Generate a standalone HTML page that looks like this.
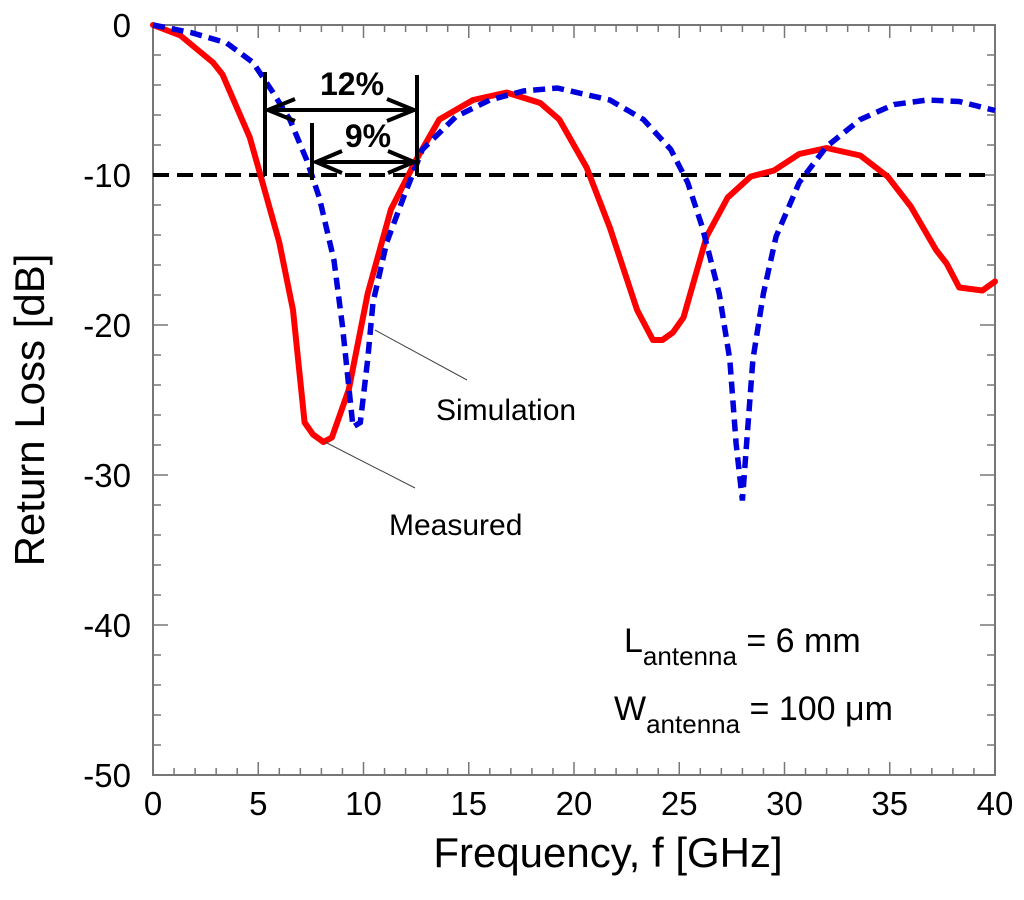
<!DOCTYPE html>
<html><head><meta charset="utf-8"><style>
html,body{margin:0;padding:0;background:#fff;}
svg{display:block;font-family:"Liberation Sans",Arial,sans-serif;}
</style></head><body>
<svg id="chart" width="1024" height="900" viewBox="0 0 1024 900" xmlns="http://www.w3.org/2000/svg">
<g id="axes"></g>
<g id="series"></g>
<g stroke="#000" stroke-width="4" fill="none">
<line x1="265" y1="72" x2="265" y2="176"/>
<line x1="417" y1="75" x2="417" y2="176"/>
<line x1="312" y1="123" x2="312" y2="180"/>
<line x1="270" y1="110" x2="412" y2="110"/>
<path d="M295,99 L268,110 L295,121 M387,99 L414,110 L387,121"/>
<line x1="316" y1="162" x2="413" y2="162"/>
<path d="M342,151 L316,162 L342,173 M388,151 L414,162 L388,173"/>
</g>
<text x="352" y="95" font-size="32" font-weight="bold" text-anchor="middle">12%</text>
<text x="368" y="147" font-size="32" font-weight="bold" text-anchor="middle">9%</text>
<line x1="375" y1="330" x2="467" y2="380" stroke="#444" stroke-width="1"/>
<text x="436" y="420" font-size="30">Simulation</text>
<line x1="325" y1="442" x2="415" y2="488" stroke="#444" stroke-width="1"/>
<text x="389" y="535" font-size="30">Measured</text>
<text x="624" y="652" font-size="34">L<tspan font-size="26" dy="13">antenna</tspan><tspan dy="-13"> =  6 mm</tspan></text>
<text x="614" y="720" font-size="34">W<tspan font-size="26" dy="13">antenna</tspan><tspan dy="-13"> = 100 μm</tspan></text>
<text x="608" y="867" font-size="42" text-anchor="middle">Frequency, f [GHz]</text>
<text transform="translate(44,410) rotate(-90)" font-size="42" text-anchor="middle">Return Loss [dB]</text>
</svg>
<script>
const xTicks = [0,5,10,15,20,25,30,35,40];
const yTicks = [0,-10,-20,-30,-40,-50];
const threshold = [-10];
const measF = [0,1.3,2.85,3.3,4.6,5.1,6.0,6.65,7.2,7.6,8.1,8.5,9.3,10.2,11.3,12.5,13.6,15.2,16.8,18.4,19.3,20.6,21.7,23.0,23.75,24.2,24.7,25.2,26.3,27.3,28.4,29.5,30.7,32.0,33.6,34.9,36.0,37.2,37.7,38.3,39.4,40];
const measDB = [0,-0.7,-2.5,-3.3,-7.5,-10,-14.5,-19,-26.5,-27.3,-27.8,-27.5,-24.3,-17.9,-12.3,-9.0,-6.3,-5.0,-4.5,-5.2,-6.3,-9.5,-13.5,-19,-21,-21,-20.5,-19.5,-14.1,-11.5,-10.1,-9.7,-8.6,-8.2,-8.7,-10.1,-12.1,-15,-15.9,-17.5,-17.7,-17.1];
const simF = [0,1.8,3.5,4.75,5.7,6.5,7.3,7.9,8.6,9.0,9.5,9.85,10.2,10.45,11.1,11.9,12.8,14.4,16,17.6,19.2,21.7,23.3,24.6,25.4,26.1,26.9,27.4,27.7,28.0,28.2,28.5,29.0,29.6,30.7,32.0,33.6,35.2,36.8,38.3,40];
const simDB = [0,-0.5,-1.2,-2.5,-4.5,-6.3,-9,-11.5,-15.7,-20.1,-26.8,-26.5,-22.3,-18.5,-14.5,-11.5,-8.3,-6.1,-5,-4.4,-4.2,-5,-6.3,-8.3,-10.5,-13.5,-17.9,-22.3,-27.9,-31.7,-27.9,-22.3,-17.9,-14.1,-10.5,-8.1,-6.3,-5.3,-5,-5.1,-5.7];
const X0=153,X1=995,Y0=25,Y1=775;
function sx(f){return X0+(f-0)/(40-0)*(X1-X0);}
function sy(d){return Y0+(0-d)/(0+50)*(Y1-Y0);}
const NS="http://www.w3.org/2000/svg";
function mk(tag,attrs,parent){const e=document.createElementNS(NS,tag);for(const k in attrs)e.setAttribute(k,attrs[k]);parent.appendChild(e);return e;}
const axes=document.getElementById('axes');
const frame=mk('rect',{x:X0,y:Y0,width:X1-X0,height:Y1-Y0,fill:'none',stroke:'#777','stroke-width':2},axes);


for(let f=0;f<=40;f++){
  const L=(f%5===0)?13:7;
  const t1=mk('line',{x1:sx(f),x2:sx(f),y1:Y1,y2:Y1-L,stroke:'#777','stroke-width':1.5},axes);
  
  
  const t2=mk('line',{x1:sx(f),x2:sx(f),y1:Y0,y2:Y0+L,stroke:'#777','stroke-width':1.5},axes);
  
  
}
for(let d=0;d>=-50;d-=2){
  const L=(d%10===0)?15:8;
  const t1=mk('line',{x1:X0,x2:X0+L,y1:sy(d),y2:sy(d),stroke:'#777','stroke-width':1.5},axes);
  
  
  const t2=mk('line',{x1:X1,x2:X1-L,y1:sy(d),y2:sy(d),stroke:'#777','stroke-width':1.5},axes);
  
  
}
xTicks.forEach(v=>{
  const t=mk('text',{x:sx(v),y:Y1+40,'font-size':33,'text-anchor':'middle'},axes);
  t.textContent=v;
  
  
});
yTicks.forEach(v=>{
  const t=mk('text',{x:131,y:sy(v)+12,'font-size':33,'text-anchor':'end'},axes);
  t.textContent=v;
  
  
});
const series=document.getElementById('series');
const th=mk('line',{x1:X0,x2:X1-5,y1:sy(threshold[0]),y2:sy(threshold[0]),stroke:'#000','stroke-width':4,'stroke-dasharray':'16 8'},series);


function pts(F,D){return F.map((f,i)=>sx(f).toFixed(1)+','+sy(D[i]).toFixed(1)).join(' ');}
const meas=mk('polyline',{points:pts(measF,measDB),fill:'none',stroke:'#ff0000','stroke-width':6,'stroke-linejoin':'round','stroke-linecap':'round'},series);


const sim=mk('polyline',{points:pts(simF,simDB),fill:'none',stroke:'#0000dd','stroke-width':5.5,'stroke-dasharray':'12 7'},series);


</script>
</body></html>
